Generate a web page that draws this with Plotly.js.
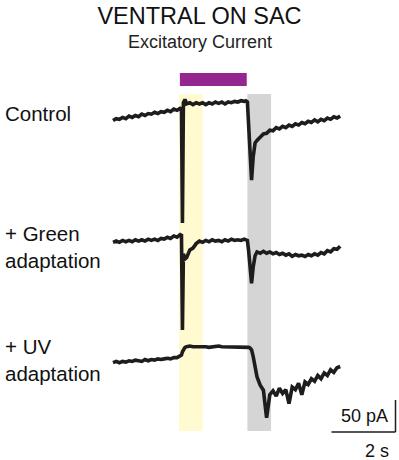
<!DOCTYPE html>
<html>
<head>
<meta charset="utf-8">
<script src="https://cdn.plot.ly/plotly-3.0.1.min.js"></script>
<style>html,body{margin:0;padding:0;background:#fff;}#chart{width:399px;height:460px;}</style>
</head>
<body>
<div id="chart"></div>
<script>
// Time (s) from the start of each sweep
const time_s = [0,0.1,0.2,0.3,0.4,0.5,0.6,0.7,0.8,0.9,1.0,1.1,1.2,1.3,1.4,1.5,1.6,1.7,1.8,1.9,2.0,
  2.1,2.14,2.17,2.2,2.25,
  2.3,2.4,2.5,2.6,2.7,2.8,2.9,3.0,3.1,3.2,3.3,3.4,3.5,3.6,3.7,3.8,3.9,4.0,4.1,
  4.15,4.2,4.24,4.28,4.33,4.38,4.44,
  4.5,4.6,4.7,4.8,4.9,5.0,5.1,5.2,5.3,5.4,5.5,5.6,5.7,5.8,5.9,6.0,6.1,6.2,6.3,6.4,6.5,6.6,6.7,6.8,6.9,7.0,7.1];

// Excitatory current (pA), relative to the start of each sweep
const control_pA = [-2,1,0,3,1,5,3,6,4,8,6,9,8,11,9,12,11,14,12,16,14,
  17,16,-162,26,31,
  24,26,23,26,24,26,23,26,24,27,25,27,24,27,26,28,27,29,28,
  29,27,-17,-64,-95,-59,-37,
  -33,-28,-23,-22,-17,-18,-13,-15,-11,-13,-9,-11,-7,-9,-5,-7,-3,-5,-1,-4,0,-2,2,0,4,2,5];

const green_pA = [-1,1,-1,2,0,2,0,3,1,3,1,4,2,4,2,5,4,7,5,9,7,
  11,10,-138,-19,-27,
  -25,-13,-10,-3,1,-1,2,0,3,1,2,0,3,1,4,2,3,2,4,
  3,2,-15,-47,-65,-40,-22,
  -16,-18,-15,-18,-16,-19,-17,-20,-18,-21,-19,-23,-20,-22,-21,-23,-20,-22,-19,-21,-17,-19,-14,-16,-11,-12,-7];

const uv_pA = [0,2,0,2,1,3,2,4,3,2,5,3,5,4,6,5,6,7,6,8,8,
  11,12,17,21,24,
  25,26,25,25,26,25,25,24,25,25,26,25,25,24,25,25,25,24,25,
  25,25,24,23,20,10,-4,
  -22,-35,-43,-86,-50,-44,-52,-40,-48,-42,-64,-38,-42,-32,-50,-30,-34,-25,-29,-20,-25,-16,-20,-11,-15,-8,-6];

const conditions = ["Control", "+ Green<br>adaptation", "+ UV<br>adaptation"];

// Stimulus timing (s)
const lightOn = 2.09, lightOff = 4.18;
const scaleBarTime = 2;   // s
const scaleBarCurrent = 50; // pA

// ---- layout helpers (positions) ----
const W = 399, H = 460;
const pxPerSec = 32, pxPerPA = 0.64, x0px = 113;
const xRange = [-x0px / pxPerSec, (W - x0px) / pxPerSec];
const yRange = [-H / pxPerPA, 0];
const py = p => 1 - p / H;           // paper y from pixel
const offsets = [-119.3 / pxPerPA, -241.7 / pxPerPA, -362.7 / pxPerPA];
const ink = "#1e1c1d";
const font = "Liberation Sans, Arial, Helvetica, sans-serif";

const series = [control_pA, green_pA, uv_pA];
const traces = series.map((vals, i) => ({
  x: time_s,
  y: vals.map(v => v + offsets[i]),
  type: "scatter", mode: "lines",
  line: {color: ink, width: 3.6, shape: "linear"},
  hoverinfo: "skip", showlegend: false
}));

const sbX1 = (395.5 - x0px) / pxPerSec;
const sbY0 = -432 / pxPerPA;

const shapes = [
  {type: "rect", layer: "below", xref: "x", yref: "paper", x0: lightOn - 0.03, x1: lightOn + 0.71, y0: py(431), y1: py(94), fillcolor: "#fffad0", line: {width: 0}},
  {type: "rect", layer: "below", xref: "x", yref: "paper", x0: lightOff + 0.02, x1: lightOff + 0.76, y0: py(431), y1: py(94), fillcolor: "#d5d5d5", line: {width: 0}},
  {type: "rect", xref: "x", yref: "paper", x0: lightOn, x1: lightOff, y0: py(86), y1: py(73), fillcolor: "#93278f", line: {width: 0}},
  {type: "line", xref: "x", yref: "y", x0: sbX1 - scaleBarTime, x1: sbX1, y0: sbY0, y1: sbY0, line: {color: ink, width: 1.5}},
  {type: "line", xref: "x", yref: "y", x0: sbX1, x1: sbX1, y0: sbY0, y1: sbY0 + scaleBarCurrent, line: {color: ink, width: 1.5}}
];

const labelY = [113, 247, 360];
const annotations = conditions.map((t, i) => ({
  text: t, xref: "paper", yref: "paper", x: 3 / W, y: py(labelY[i]),
  xanchor: "left", yanchor: "middle", align: "left", showarrow: false,
  font: {family: font, size: 20.5, color: "#111"}
}));
annotations.push(
  {text: "Excitatory Current", xref: "paper", yref: "paper", x: 199.5 / W, y: py(42), xanchor: "center", yanchor: "middle", showarrow: false, font: {family: font, size: 18, color: "#222"}},
  {text: scaleBarCurrent + " pA", xref: "paper", yref: "paper", x: 390 / W, y: py(416), xanchor: "right", yanchor: "middle", showarrow: false, font: {family: font, size: 18, color: "#111"}},
  {text: scaleBarTime + " s", xref: "paper", yref: "paper", x: 377 / W, y: py(451), xanchor: "center", yanchor: "middle", showarrow: false, font: {family: font, size: 18, color: "#111"}}
);

const layout = {
  width: W, height: H,
  margin: {l: 0, r: 0, t: 0, b: 0, pad: 0},
  paper_bgcolor: "#fff", plot_bgcolor: "#fff",
  title: {text: "VENTRAL ON SAC", x: 0.5, xref: "paper", xanchor: "center", y: 1 - 16 / H, yref: "container", yanchor: "middle", font: {family: font, size: 23.5, color: "#111"}},
  xaxis: {range: xRange, visible: false, fixedrange: true},
  yaxis: {range: yRange, visible: false, fixedrange: true},
  shapes: shapes,
  annotations: annotations,
  showlegend: false
};

Plotly.newPlot("chart", traces, layout, {displayModeBar: false, staticPlot: true});
</script>
</body>
</html>
